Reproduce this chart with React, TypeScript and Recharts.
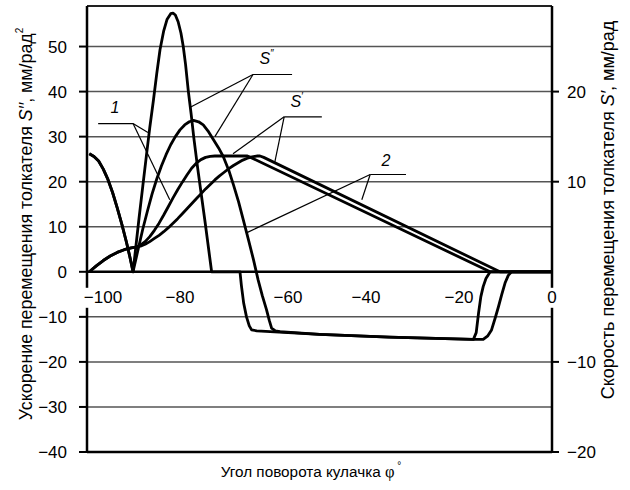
import {
  LineChart,
  Line,
  XAxis,
  YAxis,
  CartesianGrid,
  ReferenceLine,
  ReferenceDot,
} from "recharts";

const FONT = '"Liberation Sans", Arial, Helvetica, sans-serif';

// оси
const angleTicks = [-100, -80, -60, -40, -20, 0];
const accTicks = [-40, -30, -20, -10, 0, 10, 20, 30, 40, 50];
const velTicks = [-20, -10, 10, 20];
const accDomain = [-40, 59];
const velDomain = [-20, 29.5];

// ускорение S'' (кривая 1)
const acc1Angle = [
  -99.5, -98.5, -97.5, -96.5, -95.5, -94.5, -93.5, -92.5, -91.5, -90.8, -90.1,
  -89.5, -88.8, -88, -87.2, -86.5, -85.7, -85, -84.3, -83.5, -82.8, -82, -81.5,
  -81, -80.4, -79.8, -79.3, -78.8, -78.2, -77.6, -77, -76.2, -75.4, -74.6,
  -73.9, -73.2, -67.1, -66.8, -66.3, -65.7, -65.1, -64.6, -63.5, -50, -35, -17,
  -16.9, -16.3, -15.8, -15.3, -14.8, -14.2, -13.3, 0,
];
const acc1Value = [
  26.2, 25.6, 24.6, 22.8, 20.5, 17.6, 14.2, 10.5, 6.5, 3.4, 0, 5.5, 12, 19, 26,
  32, 38.2, 44, 49.3, 53.5, 56, 57.3, 57.4, 57, 55.5, 53, 50, 46, 40, 35, 29.5,
  23, 17, 11, 5.5, 0, 0, -3, -7, -10, -12, -12.9, -13.1, -13.9, -14.5, -15,
  -15, -13.5, -9.2, -5.5, -3.3, -1.5, 0, 0,
];

// ускорение S'' (кривая 2)
const acc2Angle = [
  -99.5, -98.5, -97.5, -96.5, -95.5, -94.5, -93.5, -92.5, -91.5, -90.8, -90.1,
  -89, -88, -87, -86, -85, -84, -83, -82, -81, -80, -79, -78, -77.1, -76, -75,
  -74, -72.8, -71.7, -70.7, -69.5, -68.5, -67.4, -66.4, -65.3, -64.2, -63.2,
  -62.3, -61.4, -60.8, -60.3, -59.5, -58.5, -50, -35, -17, -14.8, -13.8, -13,
  -12.2, -11.5, -10.8, -10.1, -9.4, -8.7, 0,
];
const acc2Value = [
  26.2, 25.6, 24.6, 22.8, 20.5, 17.6, 14.2, 10.5, 6.5, 3.4, 0, 5, 9.5, 13.5,
  17.3, 20.6, 23.5, 26, 28.2, 30, 31.5, 32.6, 33.3, 33.6, 33.3, 32.6, 31.3,
  29.3, 27.5, 25.6, 22.5, 19.3, 15.5, 11.6, 7.2, 2.7, -1.8, -5.3, -8.4, -10.8,
  -12.5, -13.1, -13.3, -13.9, -14.5, -15, -15, -14.2, -12.9, -10.2, -7.7, -5,
  -2.5, -0.8, 0, 0,
];

// скорость S' (кривая 1)
const vel1Angle = [
  -99.5, -98, -96.5, -95, -93.5, -92, -90.5, -89.5, -88.5, -87.5, -86.5, -85.5,
  -84.5, -83.5, -82.5, -81.5, -80.5, -79.5, -78.5, -77.5, -76.5, -75.5, -74.5,
  -73.5, -72.5, -65.5, -64.8, -13.3, 0,
];
const vel1Value = [
  0, 0.65, 1.25, 1.75, 2.15, 2.45, 2.65, 2.75, 2.95, 3.35, 3.9, 4.6, 5.4, 6.3,
  7.25, 8.2, 9.1, 9.95, 10.75, 11.5, 12.05, 12.45, 12.7, 12.82, 12.85, 12.85,
  12.7, 0, 0,
];

// скорость S' (кривая 2)
const vel2Angle = [
  -99.5, -98, -96.5, -95, -93.5, -92, -90.5, -89.5, -88.5, -87.5, -86.5, -85.5,
  -84.5, -83.5, -82.5, -81.5, -80.5, -79.5, -78.5, -77.5, -76.5, -75.5, -74.5,
  -73.5, -72.5, -71.5, -70.5, -69.5, -68.5, -67.5, -66.5, -65.5, -64.5, -63.5,
  -62.8, -62, -11.2, 0,
];
const vel2Value = [
  0, 0.65, 1.25, 1.75, 2.15, 2.45, 2.65, 2.75, 2.85, 3.05, 3.35, 3.7, 4.05,
  4.45, 4.9, 5.4, 5.9, 6.45, 7.0, 7.55, 8.1, 8.65, 9.2, 9.7, 10.2, 10.65,
  11.05, 11.45, 11.8, 12.1, 12.4, 12.6, 12.75, 12.85, 12.85, 12.7, 0, 0,
];

// выноски (в единицах ускорения)
const notes = [
  { text: "1", tx: -94, ty: 36.4, x1: -97.6, x2: -90.1, by: 32.9, from: -90.1, to: [[-86.9, 30.9], [-82.2, 16]] },
  { text: "S″", tx: -61.4, ty: 47.3, x1: -64.3, x2: -55.9, by: 43.8, from: -64.3, to: [[-78, 36.4], [-72.5, 30]] },
  { text: "S′", tx: -54.9, ty: 37.7, x1: -57.6, x2: -49.5, by: 34.4, from: -57.6, to: [[-68.6, 26.2], [-59.6, 24.4]] },
  { text: "2", tx: -35.7, ty: 24.6, x1: -39.1, x2: -31.4, by: 21.6, from: -39.1, to: [[-65.6, 8.7], [-40.9, 16]] },
];

const zip = (xs: number[], ys: number[]) => xs.map((x, i) => ({ x, y: ys[i] }));
const acc1 = zip(acc1Angle, acc1Value);
const acc2 = zip(acc2Angle, acc2Value);
const vel1 = zip(vel1Angle, vel1Value);
const vel2 = zip(vel2Angle, vel2Value);

const fmt = (v: number) => (v < 0 ? `\u2212${Math.abs(v)}` : `${v}`);
const tickShift: Record<number, number> = { [-100]: 16, [-60]: 15 };

function AngleLabel(props: any) {
  const { viewBox, value } = props;
  const cx = viewBox.x + (tickShift[value] || 0);
  const cy = viewBox.y + 26;
  const txt = fmt(value);
  const w = txt.length * 9.5 + 4;
  return (
    <g>
      <rect x={cx - w / 2} y={cy - 10} width={w} height={20} fill="#fff" />
      <text x={cx} y={cy} textAnchor="middle" dominantBaseline="central" fontSize={17} fontFamily={FONT} fill="#000">
        {txt}
      </text>
    </g>
  );
}

function NoteLabel(props: any) {
  const { viewBox, value } = props;
  const italic = value.startsWith("S");
  return (
    <text x={viewBox.x} y={viewBox.y} textAnchor="middle" dominantBaseline="central" fontSize={16} fontStyle="italic" fontFamily={FONT} fill="#000">
      {italic ? (
        <>
          S<tspan fontSize={10} dy={-6}>{value.slice(1)}</tspan>
        </>
      ) : (
        value
      )}
    </text>
  );
}

const titles = () => (
  <g fontFamily={FONT} fill="#000">
    <text x={26} y={224} transform="rotate(-90 26 224)" textAnchor="middle" dominantBaseline="central" fontSize={17.8}>
      Ускорение перемещения толкателя <tspan fontStyle="italic">S′′</tspan>, мм/рад
      <tspan fontSize={10} dy={-7}>2</tspan>
    </text>
    <text x={608} y={210} transform="rotate(-90 608 210)" textAnchor="middle" dominantBaseline="central" fontSize={18}>
      Скорость перемещения толкателя <tspan fontStyle="italic">S′</tspan>, мм/рад
    </text>
    <text x={311} y={471} textAnchor="middle" dominantBaseline="central" fontSize={15.3}>
      Угол поворота кулачка <tspan fontFamily="'Liberation Serif', serif" fontSize={16.5}>φ</tspan>
      <tspan fontSize={10} dy={-6}> °</tspan>
    </text>
  </g>
);

export default function App() {
  const curve = { type: "linear" as const, dataKey: "y", dot: false, stroke: "#000", strokeWidth: 2.8, strokeLinejoin: "round" as const, isAnimationActive: false };
  return (
    <div style={{ position: "absolute", left: 0, top: 0, background: "#fff" }}>
      <LineChart width={630} height={490} margin={{ top: 6, right: 0, bottom: 0, left: 0 }}>
        <CartesianGrid yAxisId="acc" stroke="#555" strokeWidth={1.5} />
        <XAxis
          dataKey="x"
          type="number"
          domain={[-100, 0]}
          ticks={angleTicks}
          tick={false}
          tickLine={false}
          height={38}
          axisLine={{ stroke: "#000", strokeWidth: 2.5 }}
          allowDataOverflow
          label={titles}
        />
        <YAxis
          yAxisId="acc"
          type="number"
          domain={accDomain}
          ticks={accTicks}
          width={87}
          tickSize={8}
          tickMargin={12}
          tickFormatter={fmt}
          tick={{ fill: "#000", fontSize: 17, fontFamily: FONT }}
          tickLine={{ stroke: "#000", strokeWidth: 2 }}
          axisLine={{ stroke: "#000", strokeWidth: 2.5 }}
          allowDataOverflow
        />
        <YAxis
          yAxisId="vel"
          orientation="right"
          type="number"
          domain={velDomain}
          ticks={velTicks}
          width={78}
          tickSize={7}
          tickMargin={8}
          tickFormatter={fmt}
          tick={{ fill: "#000", fontSize: 17, fontFamily: FONT }}
          tickLine={{ stroke: "#000", strokeWidth: 2 }}
          axisLine={{ stroke: "#000", strokeWidth: 2.5 }}
          allowDataOverflow
        />
        <ReferenceLine yAxisId="acc" y={accDomain[1]} stroke="#222" strokeWidth={2} />
        <ReferenceLine yAxisId="acc" y={0} stroke="#000" strokeWidth={2.5} />

        {angleTicks.map((a) => (
          <ReferenceDot key={a} yAxisId="acc" x={a} y={0} r={0} fill="none" stroke="none" label={<AngleLabel value={a} />} />
        ))}

        {notes.map((n) => (
          <g key={n.text}>
            <ReferenceLine yAxisId="acc" segment={[{ x: n.x1, y: n.by }, { x: n.x2, y: n.by }]} stroke="#000" strokeWidth={1.2} ifOverflow="visible" />
            {n.to.map(([x, y], i) => (
              <ReferenceLine key={i} yAxisId="acc" segment={[{ x: n.from, y: n.by }, { x, y }]} stroke="#000" strokeWidth={1.2} ifOverflow="visible" />
            ))}
            <ReferenceDot yAxisId="acc" x={n.tx} y={n.ty} r={0} fill="none" stroke="none" label={<NoteLabel value={n.text} />} />
          </g>
        ))}

        <Line {...curve} yAxisId="acc" data={acc1} />
        <Line {...curve} yAxisId="acc" data={acc2} />
        <Line {...curve} yAxisId="vel" data={vel1} />
        <Line {...curve} yAxisId="vel" data={vel2} />
      </LineChart>
    </div>
  );
}
